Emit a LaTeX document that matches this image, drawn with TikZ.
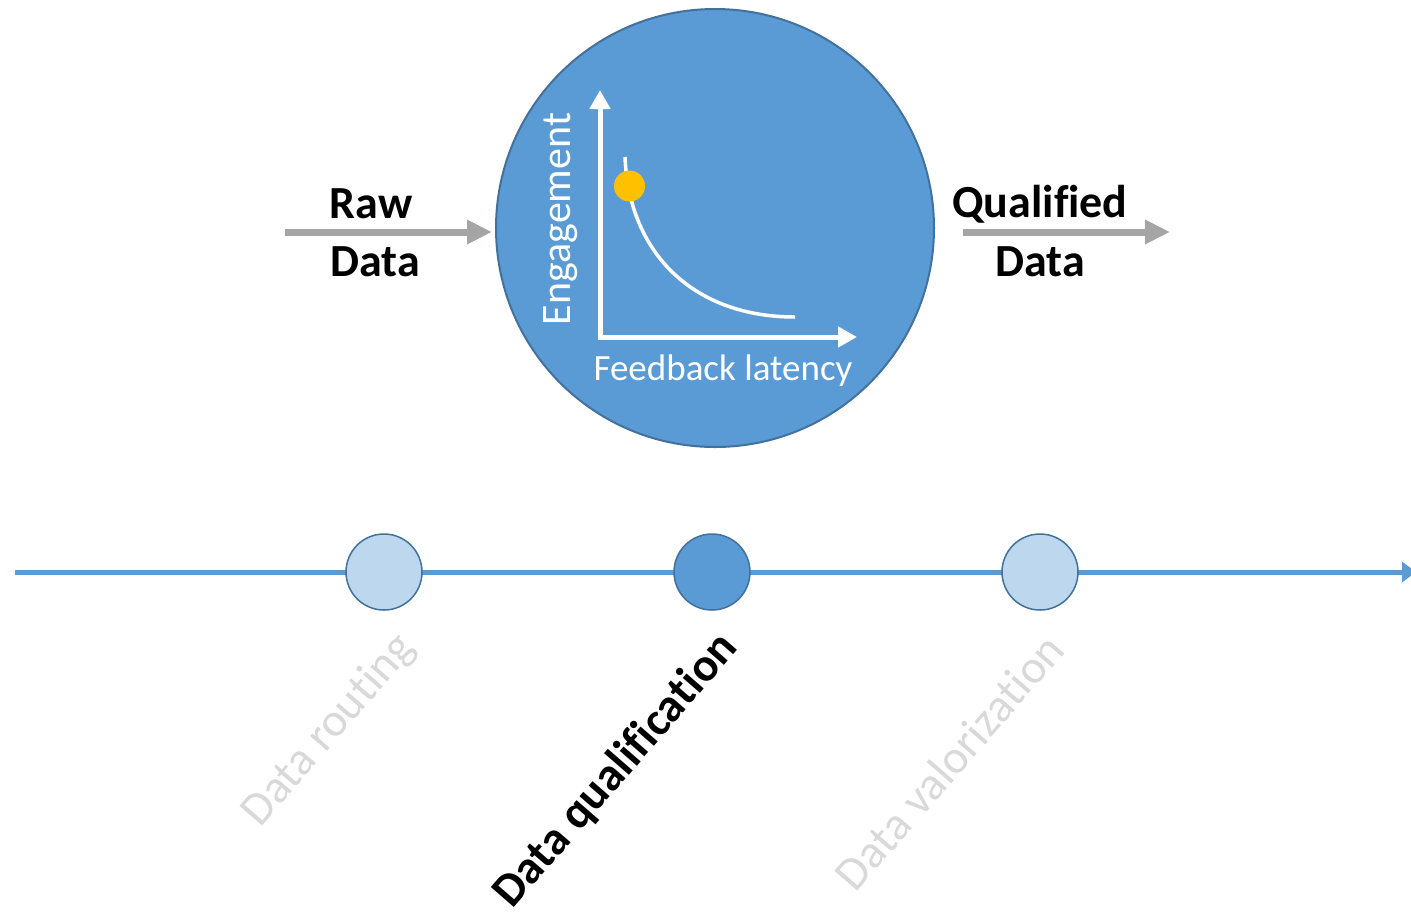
\documentclass[tikz,border=0pt]{standalone}
\usepackage{fontspec}
\setmainfont{Carlito}[Ligatures=NoCommon]
\usetikzlibrary{arrows.meta}
\definecolor{mainblue}{HTML}{5B9BD5}
\definecolor{edgeblue}{HTML}{41719C}
\definecolor{lightblue}{HTML}{BDD7EE}
\definecolor{arrowgray}{HTML}{A5A5A5}
\definecolor{labelgray}{HTML}{D9D9D9}
\definecolor{dotorange}{HTML}{FFC000}
\tikzset{
  bigtxt/.style={font=\fontsize{46}{50}\selectfont\bfseries, text=black, inner sep=0pt},
  whitetxt/.style={font=\fontsize{37}{41}\selectfont, text=white, inner sep=0pt},
  steplabel/.style={font=\fontsize{47}{51}\selectfont, text=labelgray, rotate=49, inner sep=0pt},
  stepdot/.style={circle, draw=edgeblue, line width=1.5pt, minimum size=76pt, inner sep=0pt},
  grayarrow/.style={draw=arrowgray, line width=7pt, -{Triangle[length=25pt,width=23pt]}},
  axisline/.style={draw=white, line width=5pt, -{Triangle[length=19pt,width=20pt]}},
}
\begin{document}
\begin{tikzpicture}[x=1pt,y=-1pt]
\useasboundingbox (0,0) rectangle (1411,914);
% big circle
\node[circle, fill=mainblue, draw=edgeblue, line width=2pt, minimum size=438pt, inner sep=0pt] (big) at (715,228) {};
% axes
\coordinate (origin) at (600,337);
\coordinate (ytip) at (600,90);
\coordinate (xtip) at (857,337);
\coordinate (ybase) at (600,339.5);
\coordinate (xbase) at (597.5,337);
\draw[axisline] (ybase) -- (ytip);
\draw[axisline] (xbase) -- (xtip);
% curve
\coordinate (cstart) at (625,157);
\coordinate (cend) at (795,317);
\draw[white, line width=3.5pt] (cstart) .. controls (629,255) and (695,317) .. (cend);
\node[circle, fill=dotorange, minimum size=31pt, inner sep=0pt] (dot) at (629.5,186) {};
\node[whitetxt, font=\fontsize{42}{46}\selectfont, rotate=90] (eng) at (561,219) {Engagement};
\node[whitetxt] (fb) at (723,371) {Feedback latency};
% input / output
\coordinate (rawstart) at (285,232);
\coordinate (rawend) at (492,232);
\draw[grayarrow] (rawstart) -- (rawend);
\node[bigtxt] (raw1) at (371,204) {Raw};
\node[bigtxt] (raw2) at (375,262) {Data};
\coordinate (qstart) at (963,232);
\coordinate (qend) at (1170,232);
\draw[grayarrow] (qstart) -- (qend);
\node[bigtxt] (q1) at (1040,204) {Qualified};
\node[bigtxt] (q2) at (1040,262) {Data};
% timeline
\coordinate (tstart) at (15,572);
\coordinate (tend) at (1416,572);
\draw[mainblue, line width=5pt, -{Triangle[length=14pt,width=20pt]}] (tstart) -- (tend);
\node[stepdot, fill=lightblue] (s1) at (384,572) {};
\node[stepdot, fill=mainblue] (s2) at (712,572) {};
\node[stepdot, fill=lightblue] (s3) at (1040,572) {};
% step labels
\node[steplabel] (l1) at (329,731) {Data routing};
\node[steplabel, text=black, font=\fontsize{47}{51}\selectfont\bfseries] (l2) at (616,771) {Data qualification};
\node[steplabel] (l3) at (949,762) {Data valorization};
\end{tikzpicture}
\end{document}
